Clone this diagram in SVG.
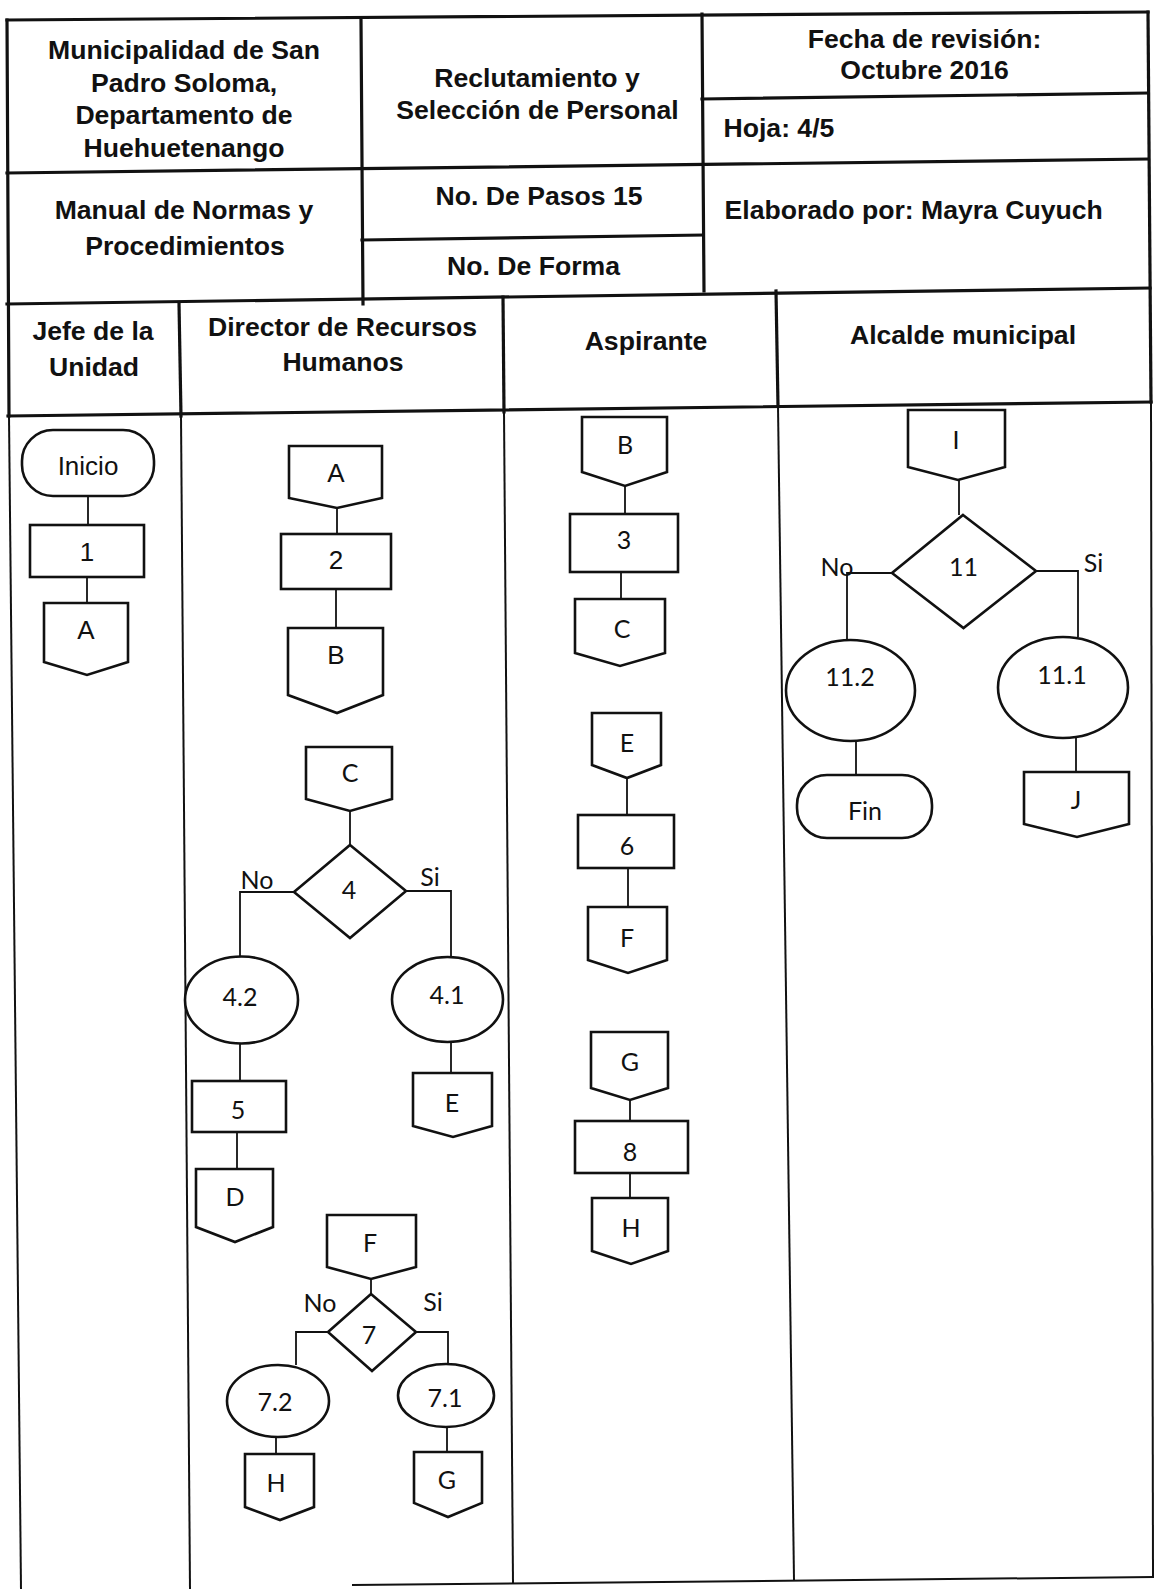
<svg xmlns="http://www.w3.org/2000/svg" width="1154" height="1589" viewBox="0 0 1154 1589">
  <style>
    .tbl { stroke: #111; stroke-width: 3.2; fill: none; stroke-linecap: square; }
    .lane { stroke: #111; stroke-width: 2; fill: none; }
    .shape { fill: #fff; stroke: #111; stroke-width: 2.6; stroke-linejoin: miter; }
    .conn { fill: none; stroke: #111; stroke-width: 1.8; }
    .hdr { font-family: "Liberation Sans", Arial, sans-serif; font-weight: bold; font-size: 26.6px; fill: #111; text-anchor: middle; }
    .hdl { text-anchor: start; }
    .lbl { font-family: Lato, "Open Sans", sans-serif; font-size: 25px; fill: #111; text-anchor: middle; }
    .arl { font-family: "Liberation Sans", Arial, sans-serif; font-size: 26px; fill: #111; text-anchor: middle; }
  </style>
  <rect width="1154" height="1589" fill="#fff"/>

  <!-- header table and swimlane frame -->
  <g id="frame">
    <line class="tbl" x1="7" y1="20" x2="1148" y2="12"/>
    <line class="tbl" x1="7" y1="173" x2="1148" y2="159"/>
    <line class="tbl" x1="702" y1="99" x2="1148" y2="93"/>
    <line class="tbl" x1="362" y1="240" x2="703" y2="235"/>
    <line class="tbl" x1="7" y1="304" x2="1150" y2="288"/>
    <line class="tbl" x1="8" y1="416" x2="1151" y2="402"/>
    <line class="tbl" x1="361" y1="20" x2="363" y2="304"/>
    <line class="tbl" x1="702" y1="14" x2="704" y2="291"/>
    <line class="tbl" x1="7" y1="20" x2="9" y2="416"/>
    <line class="tbl" x1="1148" y1="12" x2="1151" y2="402"/>
    <line class="tbl" x1="179" y1="303" x2="181" y2="416"/>
    <line class="tbl" x1="503" y1="297" x2="504" y2="412"/>
    <line class="tbl" x1="776" y1="291" x2="778" y2="406"/>
    <!-- lane bodies -->
    <line class="lane" x1="9" y1="416" x2="21" y2="1589"/>
    <line class="lane" x1="181" y1="416" x2="190" y2="1589"/>
    <line class="lane" x1="504" y1="412" x2="513" y2="1583"/>
    <line class="lane" x1="778" y1="406" x2="794" y2="1580"/>
    <line class="lane" x1="1151" y1="402" x2="1153" y2="1577"/>
    <line class="lane" x1="352" y1="1585" x2="1154" y2="1577"/>
  </g>

  <g id="header-text">
    <text class="hdr" x="184" y="59">Municipalidad de San</text>
    <text class="hdr" x="184" y="91.5">Padro Soloma,</text>
    <text class="hdr" x="184" y="124">Departamento de</text>
    <text class="hdr" x="184" y="156.5">Huehuetenango</text>
    <text class="hdr" x="537" y="86.5">Reclutamiento y</text>
    <text class="hdr" x="537.5" y="119">Selección de Personal</text>
    <text class="hdr" x="924.5" y="48">Fecha de revisión:</text>
    <text class="hdr" x="924.5" y="78.5">Octubre 2016</text>
    <text class="hdr hdl" x="723.5" y="137">Hoja: 4/5</text>
    <text class="hdr" x="184" y="219">Manual de Normas y</text>
    <text class="hdr" x="185" y="254.5">Procedimientos</text>
    <text class="hdr" x="539" y="205">No. De Pasos 15</text>
    <text class="hdr" x="533.5" y="275">No. De Forma</text>
    <text class="hdr hdl" x="724.5" y="219">Elaborado por: Mayra Cuyuch</text>
  </g>

  <g id="lane-headers">
    <text class="hdr" x="93" y="340">Jefe de la</text>
    <text class="hdr" x="94" y="376">Unidad</text>
    <text class="hdr" x="342.5" y="335.5">Director de Recursos</text>
    <text class="hdr" x="343" y="371">Humanos</text>
    <text class="hdr" x="646" y="350">Aspirante</text>
    <text class="hdr" x="963" y="344">Alcalde municipal</text>
  </g>

  <!-- connectors -->
  <g id="connectors">
    <line class="conn" x1="88" y1="496" x2="88" y2="525"/>
    <line class="conn" x1="87" y1="577" x2="87" y2="603"/>
    <line class="conn" x1="337" y1="508" x2="337" y2="534"/>
    <line class="conn" x1="336" y1="589" x2="336" y2="628"/>
    <line class="conn" x1="350" y1="811" x2="350" y2="845"/>
    <path class="conn" d="M294,892 H240 V957"/>
    <path class="conn" d="M406,891 H451 V957"/>
    <line class="conn" x1="240" y1="1044" x2="240" y2="1081"/>
    <line class="conn" x1="237" y1="1132" x2="237" y2="1169"/>
    <line class="conn" x1="451" y1="1042" x2="451" y2="1073"/>
    <line class="conn" x1="371" y1="1279" x2="371" y2="1294"/>
    <path class="conn" d="M328,1332 H296 V1365"/>
    <path class="conn" d="M416,1332 H448 V1364"/>
    <line class="conn" x1="276" y1="1437" x2="276" y2="1454"/>
    <line class="conn" x1="447" y1="1427" x2="447" y2="1452"/>
    <line class="conn" x1="625" y1="486" x2="625" y2="514"/>
    <line class="conn" x1="621" y1="572" x2="621" y2="599"/>
    <line class="conn" x1="627" y1="778" x2="627" y2="815"/>
    <line class="conn" x1="628" y1="868" x2="628" y2="907"/>
    <line class="conn" x1="630" y1="1100" x2="630" y2="1121"/>
    <line class="conn" x1="630" y1="1173" x2="630" y2="1198"/>
    <line class="conn" x1="959" y1="480" x2="959" y2="515"/>
    <path class="conn" d="M892,573 H847 V640"/>
    <path class="conn" d="M1036,571 H1078 V637"/>
    <line class="conn" x1="856" y1="741" x2="856" y2="775"/>
    <line class="conn" x1="1076" y1="738" x2="1076" y2="772"/>
  </g>

  <!-- Jefe de la Unidad -->
  <g id="inicio"><rect class="shape" x="22" y="430" width="132" height="66" rx="31"/><text class="arl" x="88" y="475">Inicio</text></g>
  <g id="step-1"><rect class="shape" x="30" y="525" width="114" height="52"/><text class="arl" x="87" y="561">1</text></g>
  <g id="out-A"><path class="shape" d="M44,603 H128 V662 L87,675 L44,662 Z"/><text class="arl" x="86" y="639">A</text></g>

  <!-- Director de Recursos Humanos -->
  <g id="in-A"><path class="shape" d="M289,446 H382 V498 L337,508 L289,498 Z"/><text class="arl" x="336" y="482">A</text></g>
  <g id="step-2"><rect class="shape" x="281" y="534" width="110" height="55"/><text class="arl" x="336" y="569">2</text></g>
  <g id="out-B"><path class="shape" d="M288,628 H383 V695 L337,713 L288,695 Z"/><text class="arl" x="336" y="664">B</text></g>
  <g id="in-C"><path class="shape" d="M306,747 H392 V799 L350,811 L306,799 Z"/><text class="lbl" x="350" y="782">C</text></g>
  <g id="dec-4">
    <path class="shape" d="M350,845 L406,891 L350,938 L294,892 Z"/>
    <text class="lbl" x="349" y="899">4</text>
    <text class="lbl" x="257" y="889">No</text>
    <text class="lbl" x="430" y="886">Si</text>
  </g>
  <g id="step-4-2"><ellipse class="shape" cx="241.5" cy="1000" rx="56.5" ry="43.5"/><text class="lbl" x="240" y="1006">4.2</text></g>
  <g id="step-4-1"><ellipse class="shape" cx="447.5" cy="999.5" rx="55.5" ry="42.5"/><text class="lbl" x="447" y="1004">4.1</text></g>
  <g id="step-5"><rect class="shape" x="192" y="1081" width="94" height="51"/><text class="lbl" x="238" y="1119">5</text></g>
  <g id="out-D"><path class="shape" d="M196,1169 H273 V1227 L235,1242 L196,1227 Z"/><text class="lbl" x="235" y="1206">D</text></g>
  <g id="out-E"><path class="shape" d="M413,1073 H492 V1126 L453,1137 L413,1126 Z"/><text class="lbl" x="452" y="1112">E</text></g>
  <g id="in-F"><path class="shape" d="M327,1215 H416 V1267 L371,1279 L327,1267 Z"/><text class="lbl" x="370" y="1252">F</text></g>
  <g id="dec-7">
    <path class="shape" d="M371,1294 L416,1332 L372,1371 L328,1332 Z"/>
    <text class="lbl" x="369" y="1344">7</text>
    <text class="lbl" x="320" y="1312">No</text>
    <text class="lbl" x="433" y="1311">Si</text>
  </g>
  <g id="step-7-2"><ellipse class="shape" cx="278" cy="1401" rx="51" ry="36"/><text class="lbl" x="275" y="1411">7.2</text></g>
  <g id="step-7-1"><ellipse class="shape" cx="446" cy="1395.5" rx="48" ry="31.5"/><text class="lbl" x="445" y="1407">7.1</text></g>
  <g id="out-H-7"><path class="shape" d="M245,1454 H314 V1507 L280,1520 L245,1507 Z"/><text class="lbl" x="276" y="1492">H</text></g>
  <g id="out-G"><path class="shape" d="M414,1452 H482 V1503 L448,1517 L414,1503 Z"/><text class="lbl" x="447" y="1489">G</text></g>

  <!-- Aspirante -->
  <g id="in-B"><path class="shape" d="M582,417 H667 V472 L625,486 L582,472 Z"/><text class="lbl" x="625" y="454">B</text></g>
  <g id="step-3"><rect class="shape" x="570" y="514" width="108" height="58"/><text class="lbl" x="624" y="549">3</text></g>
  <g id="out-C"><path class="shape" d="M575,599 H665 V653 L620,666 L575,653 Z"/><text class="lbl" x="622" y="638">C</text></g>
  <g id="in-E"><path class="shape" d="M592,713 H661 V765 L627,778 L592,765 Z"/><text class="lbl" x="627" y="752">E</text></g>
  <g id="step-6"><rect class="shape" x="578" y="815" width="96" height="53"/><text class="lbl" x="627" y="855">6</text></g>
  <g id="out-F"><path class="shape" d="M588,907 H667 V960 L628,973 L588,960 Z"/><text class="lbl" x="627" y="947">F</text></g>
  <g id="in-G"><path class="shape" d="M591,1032 H668 V1088 L630,1100 L591,1088 Z"/><text class="lbl" x="630" y="1071">G</text></g>
  <g id="step-8"><rect class="shape" x="575" y="1121" width="113" height="52"/><text class="lbl" x="630" y="1161">8</text></g>
  <g id="out-H-8"><path class="shape" d="M592,1198 H668 V1251 L631,1264 L592,1251 Z"/><text class="lbl" x="631" y="1237">H</text></g>

  <!-- Alcalde municipal -->
  <g id="in-I"><path class="shape" d="M908,410 H1005 V467 L958,480 L908,467 Z"/><text class="lbl" x="956" y="449">I</text></g>
  <g id="dec-11">
    <path class="shape" d="M963,515 L1036,571 L963.5,628 L892,573 Z"/>
    <text class="lbl" x="963.5" y="576">11</text>
    <text class="lbl" x="837" y="576">No</text>
    <text class="lbl" x="1093.5" y="572">Si</text>
  </g>
  <g id="step-11-2"><ellipse class="shape" cx="850.5" cy="690.5" rx="64.5" ry="50.5"/><text class="lbl" x="850" y="686">11.2</text></g>
  <g id="step-11-1"><ellipse class="shape" cx="1063" cy="687.5" rx="65" ry="50.5"/><text class="lbl" x="1062" y="684">11.1</text></g>
  <g id="fin"><rect class="shape" x="797" y="775" width="135" height="63" rx="30"/><text class="lbl" x="865" y="820">Fin</text></g>
  <g id="out-J"><path class="shape" d="M1024,772 H1129 V824 L1077,837 L1024,824 Z"/><text class="lbl" x="1076" y="809">J</text></g>
</svg>
